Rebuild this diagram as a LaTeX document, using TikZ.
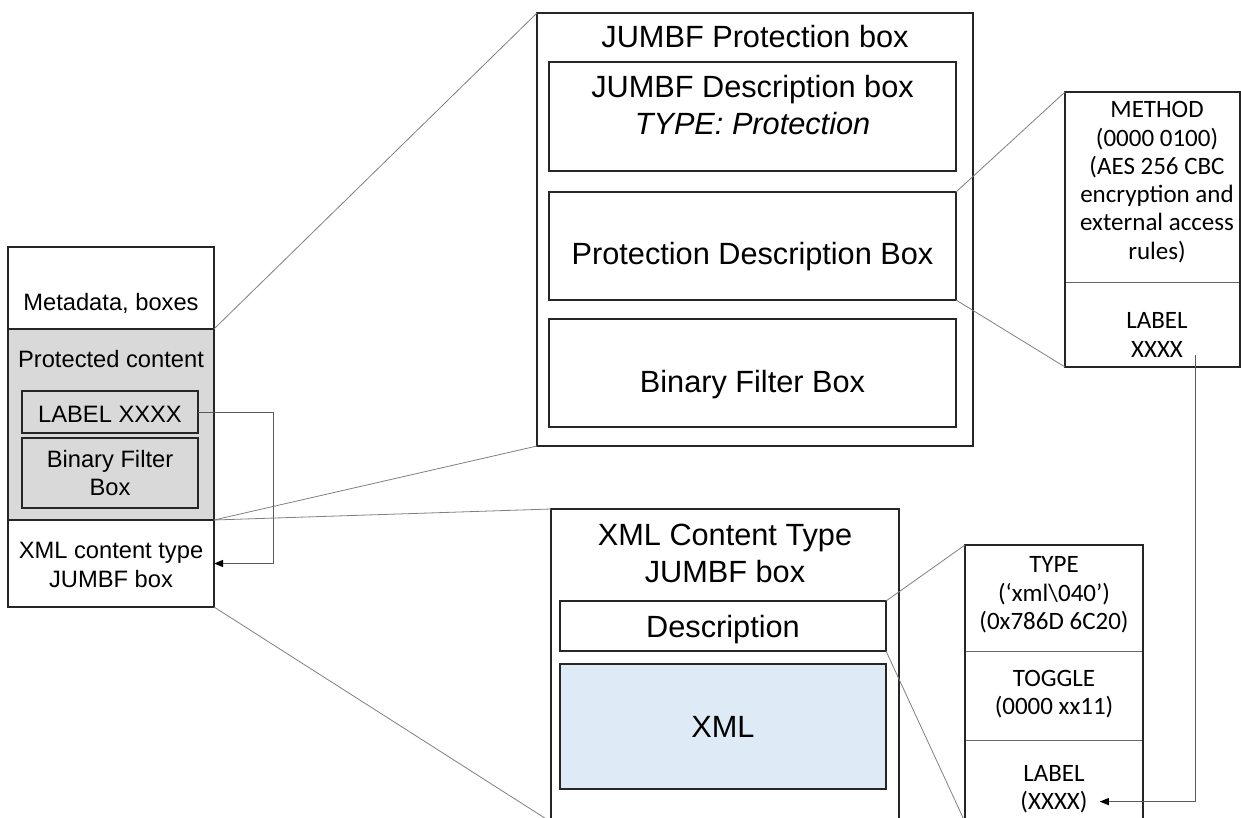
\documentclass[tikz,border=0pt]{standalone}
\usepackage{fontspec}
\setmainfont{Liberation Sans}
\newfontfamily\calfont{Carlito}
\usetikzlibrary{arrows.meta}
\definecolor{shade}{HTML}{D9D9D9}
\definecolor{paleblue}{HTML}{DEEBF7}
\definecolor{linkgray}{HTML}{808080}
\begin{document}
\begin{tikzpicture}[x=1pt,y=-1pt,
  frame/.style={draw=black!85, line width=1.6pt, inner sep=0pt, outer sep=0pt},
  cell/.style={draw=black!60, line width=0.9pt, inner sep=0pt, outer sep=0pt},
  link/.style={draw=linkgray, line width=0.8pt},
  lead/.style={draw=black!65, line width=1pt, -{Triangle[length=9pt,width=7pt,color=black]}},
  big/.style={font=\fontsize{30.7}{37}\selectfont, anchor=base, inner sep=0pt},
  small/.style={font=\fontsize{23.7}{29}\selectfont, anchor=base, inner sep=0pt},
  cal/.style={font=\calfont\fontsize{25}{29}\selectfont, anchor=base, inner sep=0pt}]
\useasboundingbox (0,0) rectangle (1241,818);
\fill[white] (0,0) rectangle (1241,818);
\clip (0,0) rectangle (1241,818);

% ---- file layout on the left ----
\node[frame, minimum width=206pt, minimum height=82pt] (meta) at (111,288) {};
\node[frame, fill=shade, minimum width=206pt, minimum height=191pt] (protc) at (111,424.5) {};
\node[frame, minimum width=206pt, minimum height=87pt] (xmlc) at (111,563.5) {};
\node[frame, line width=1.3pt, fill=shade, minimum width=176pt, minimum height=42pt] (labx) at (110,412) {};
\node[frame, line width=1.3pt, fill=shade, minimum width=176pt, minimum height=70pt] (lbf) at (110,473) {};
\node[small] (lmeta) at (111,310) {Metadata, boxes};
\node[small] (lprot) at (111,367) {Protected content};
\node[small] (llab) at (110,422) {LABEL XXXX};
\node[small] (lbf1) at (110,467) {Binary Filter};
\node[small] (lbf2) at (110,495) {Box};
\node[small] (lxml1) at (111,558) {XML content type};
\node[small] (lxml2) at (111,587) {JUMBF box};

% ---- protection box ----
\node[frame, minimum width=436pt, minimum height=433pt] (prot) at (755,229.5) {};
\node[frame, minimum width=407pt, minimum height=109pt] (jdesc) at (752.5,116.5) {};
\node[frame, minimum width=407pt, minimum height=108pt] (pdesc) at (752.5,246) {};
\node[frame, minimum width=407pt, minimum height=108pt] (bfilt) at (752.5,373) {};
\node[big] (tprot) at (755,48) {JUMBF Protection box};
\node[big] (tjd1) at (752.5,98) {JUMBF Description box};
\node[big] (tjd2) at (752.5,135) {\itshape TYPE: Protection};
\node[big] (tpd) at (752.5,265) {Protection Description Box};
\node[big] (tbf) at (752.5,392) {Binary Filter Box};

% ---- XML content type box ----
\node[frame, minimum width=348pt, minimum height=313pt] (xmlbox) at (725,665.5) {};
\node[frame, minimum width=326pt, minimum height=50pt] (descr) at (723,626) {};
\node[frame, fill=paleblue, minimum width=326pt, minimum height=125pt] (xmlin) at (723,726.5) {};
\node[big] (txml1) at (725,545) {XML Content Type};
\node[big] (txml2) at (725,582) {JUMBF box};
\node[big] (tdescr) at (723,637) {Description};
\node[big] (txml) at (723,737) {XML};

% ---- protection description fields ----
\node[cell, minimum width=175pt, minimum height=190pt] (method) at (1152.5,187) {};
\node[cell, minimum width=175pt, minimum height=85pt] (mlabel) at (1152.5,324.5) {};
\draw[frame] (method.north west) rectangle (mlabel.south east);
\node[cal] (m1) at (1157,118) {METHOD};
\node[cal] (m2) at (1157,147) {(0000 0100)};
\node[cal] (m3) at (1157,175) {(AES 256 CBC};
\node[cal] (m4) at (1157,203) {encryption and};
\node[cal] (m5) at (1157,231) {external access};
\node[cal] (m6) at (1157,259) {rules)};
\node[cal] (ml1) at (1157,328) {LABEL};
\node[cal] (ml2) at (1157,357) {XXXX};

% ---- description fields ----
\node[cell, minimum width=178pt, minimum height=106pt] (ttype) at (1054,598) {};
\node[cell, minimum width=178pt, minimum height=89pt] (ttoggle) at (1054,695.5) {};
\node[cell, minimum width=178pt, minimum height=82pt] (tlabel) at (1054,781) {};
\draw[frame] (ttype.north west) rectangle (tlabel.south east);
\node[cal] (d1) at (1054,572) {TYPE};
\node[cal] (d2) at (1054,601) {(‘xml\textbackslash 040’)};
\node[cal] (d3) at (1054,629) {(0x786D 6C20)};
\node[cal] (d4) at (1054,686) {TOGGLE};
\node[cal] (d5) at (1054,714) {(0000 xx11)};
\node[cal] (d6) at (1054,781) {LABEL};
\node[cal] (d7) at (1054,809) {(XXXX)};

% ---- zoom lines ----
\draw[link] (meta.south east) -- (prot.north west);
\draw[link] (protc.south east) -- (prot.south west);
\draw[link] (protc.south east) -- (xmlbox.north west);
\draw[link] (xmlc.south east) -- (xmlbox.south west);
\draw[link] (pdesc.north east) -- (method.north west);
\draw[link] (pdesc.south east) -- (mlabel.south west);
\draw[link] (descr.north east) -- (ttype.north west);
\draw[link] (descr.south east) -- (tlabel.south west);

% ---- label references ----
\draw[lead] (labx.east) -- ++(75,0) |- (xmlc.east);
\coordinate (lblsrc) at (1195,355);
\draw[lead] (lblsrc) |- ([xshift=12pt]d7.east);
\end{tikzpicture}
\end{document}
